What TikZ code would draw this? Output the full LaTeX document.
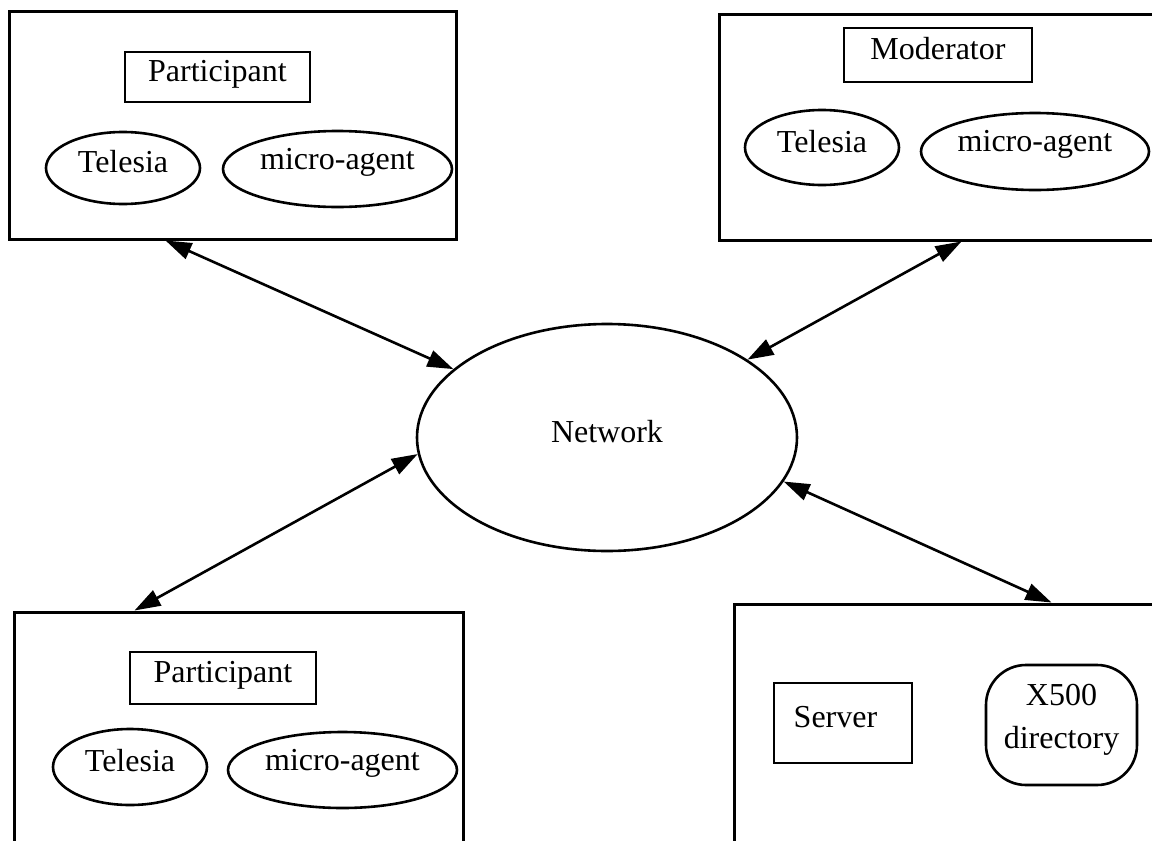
\documentclass[tikz,border=0pt]{standalone}
\usepackage{fontspec}
\setmainfont{Liberation Serif}
\usetikzlibrary{shapes.geometric,arrows.meta,calc}

\tikzset{
  txt/.style={font=\fontsize{32}{43}\selectfont, inner sep=0pt, text height=22.4pt, text depth=13pt},
  frame/.style={draw, rectangle, line width=3pt, inner sep=0pt},
  rolebox/.style={txt, draw, rectangle, line width=2.6pt},
  tool/.style={txt, draw, ellipse, line width=2.6pt},
  agent/.style={tool, text depth=22.4pt},
  dirbox/.style={font=\fontsize{32}{43}\selectfont, draw, rectangle, rounded corners=40pt,
    line width=2.6pt, inner sep=0pt, align=center},
  net/.style={txt, draw, ellipse, line width=2.6pt},
  link/.style={line width=2.6pt, {Triangle[length=26pt,width=17pt]}-{Triangle[length=26pt,width=17pt]}}
}

\begin{document}
\begin{tikzpicture}[x=1pt, y=-1pt]
  \useasboundingbox (0,0) rectangle (1152,841);
  \clip (0,0) rectangle (1152,841);

  % host frames
  \node[frame, minimum width=447pt, minimum height=228pt] (tl) at (232.5,125) {};
  \node[frame, minimum width=451pt, minimum height=226pt] (tr) at (944.5,127) {};
  \node[frame, minimum width=449pt, minimum height=248pt] (bl) at (238.5,736) {};
  \node[frame, minimum width=436pt, minimum height=256pt] (br) at (952,732) {};

  % first participant
  \node[rolebox, minimum width=185pt, minimum height=50pt] (tlrole) at (217.5,77) {Participant};
  \node[tool, minimum width=154pt, minimum height=72pt] (tltel) at (123,168) {Telesia};
  \node[agent, minimum width=229pt, minimum height=76pt] (tlagent) at (337.5,169) {micro-agent};

  % moderator
  \node[rolebox, minimum width=188pt, minimum height=54pt] (trrole) at (938,55) {Moderator};
  \node[tool, minimum width=154pt, minimum height=75pt] (trtel) at (822,147.5) {Telesia};
  \node[agent, minimum width=228pt, minimum height=77pt] (tragent) at (1035,151.5) {micro-agent};

  % second participant
  \node[rolebox, minimum width=186pt, minimum height=52pt] (blrole) at (223,678) {Participant};
  \node[tool, minimum width=154pt, minimum height=76pt] (bltel) at (130,767) {Telesia};
  \node[agent, minimum width=229pt, minimum height=76pt] (blagent) at (342.5,770) {micro-agent};

  % server host
  \node[rolebox, minimum width=138pt, minimum height=80pt] (server) at (843,723) {\hspace*{-15pt}Server};
  \node[dirbox, minimum width=151pt, minimum height=120pt] (dir) at (1061.5,725)
    {X500\\directory\rule[-17pt]{0pt}{1pt}};

  % network
  \node[net, minimum width=380pt, minimum height=227pt] (net) at (607,437.5) {Network};

  % links
  \draw[link] ($(tl.south west)+(158,0)$) -- (net.156.5);
  \draw[link] ($(tr.south west)+(244,0)$) -- (net.29.9);
  \draw[link] ($(bl.north west)+(122,0)$) -- (net.185.6);
  \draw[link] ($(br.north west)+(319,0)$) -- (net.346.5);
\end{tikzpicture}
\end{document}
